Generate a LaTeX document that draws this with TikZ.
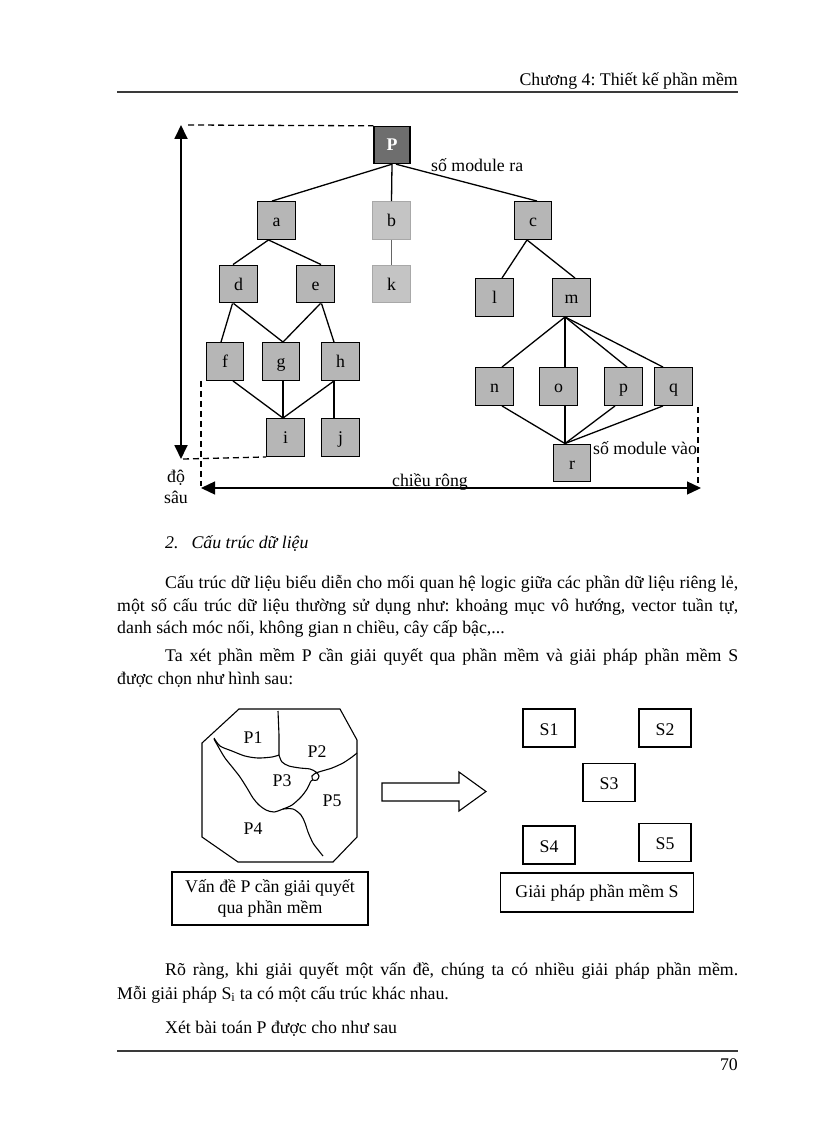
\documentclass[tikz,border=0pt]{standalone}
\usepackage{fontspec}
\setmainfont{Liberation Serif}
\usetikzlibrary{arrows.meta}
\definecolor{tg}{HTML}{B6B6B6}
\definecolor{pg}{HTML}{6E6E6E}
\definecolor{lg}{HTML}{C4C4C4}
\definecolor{lb}{HTML}{A8A8A8}
\definecolor{rule}{HTML}{3A3A3A}
\newcommand\myfs{\fontsize{17.8pt}{21.5pt}\selectfont}
\tikzset{
  every node/.style={font=\myfs, inner sep=0pt},
  tn/.style={draw=black, line width=1.4pt, fill=tg, minimum width=37.5pt, minimum height=37.5pt, text height=14pt, text depth=2pt},
  tl/.style={tn, draw=lb, fill=lg},
  lnk/.style={line width=1.3pt},
  dsh/.style={line width=1.3pt, dash pattern=on 6pt off 4pt},
  sbox/.style={draw, line width=1.1pt, minimum width=52pt, minimum height=38pt, text height=15pt, text depth=1pt},
  txt/.style={anchor=base west},
  tip/.style={line width=1.3pt, {Triangle[length=14pt,width=13pt]}-{Triangle[length=14pt,width=13pt]}}
}
\begin{document}
\frenchspacing
\begin{tikzpicture}[x=1pt,y=-1pt]
\useasboundingbox[fill=white] (0,0) rectangle (816,1123);
% header
\node[anchor=base east] (hdr) at (738,86) {Chương 4: Thiết kế phần mềm};
\draw[line width=1.6pt, rule] (117,92) -- (738,92);
% tree
\node[tn, fill=pg, minimum width=36pt, minimum height=37pt] (P) at (392,145) {\textcolor{white}{\textbf{P}}};
\node[tn] (a) at (276.5,220.5) {a};
\node[tl] (b) at (391.5,220.5) {b};
\node[tn] (c) at (533,220.5) {c};
\node[tn] (d) at (238.5,284) {d};
\node[tn] (e) at (315.5,284) {e};
\node[tl] (k) at (391.5,284) {k};
\node[tn] (l) at (494.5,297.5) {l};
\node[tn] (m) at (571.5,297.5) {m};
\node[tn] (f) at (225,361.5) {f};
\node[tn] (g) at (281,361.5) {g};
\node[tn] (h) at (340.5,361.5) {h};
\node[tn] (i) at (285.5,437.5) {i};
\node[tn] (j) at (340.5,437.5) {j};
\node[tn] (n) at (494.5,386.5) {n};
\node[tn] (o) at (558.5,386.5) {o};
\node[tn] (p) at (623.5,386.5) {p};
\node[tn] (q) at (673.5,386.5) {q};
\node[tn] (r) at (572,463) {r};
\draw[lnk] (P.south) -- ([xshift=-4.5pt]a.north);
\draw[lnk] (P.south) -- (b.north);
\draw[lnk] ([xshift=4pt]P.south) -- ([xshift=4pt]c.north);
\draw[lnk] ([xshift=-8pt]a.south) -- ([xshift=-5.5pt]d.north);
\draw[lnk] ([xshift=-8pt]a.south) -- ([xshift=5.5pt]e.north);
\draw[lnk, lb!60!black] (b.south) -- (k.north);
\draw[lnk] ([xshift=-6pt]c.south) -- ([xshift=7.5pt]l.north);
\draw[lnk] ([xshift=-6pt]c.south) -- ([xshift=3.5pt]m.north);
\draw[lnk] ([xshift=-6pt]d.south) -- ([xshift=-4pt]f.north);
\draw[lnk] ([xshift=-5pt]d.south) -- ([xshift=2pt]g.north);
\draw[lnk] ([xshift=5pt]e.south) -- ([xshift=2pt]g.north);
\draw[lnk] ([xshift=6pt]e.south) -- ([xshift=-6.5pt]h.north);
\draw[lnk] ([xshift=8pt]f.south) -- ([xshift=-2.5pt]i.north);
\draw[lnk] ([xshift=2pt]g.south) -- ([xshift=-2.5pt]i.north);
\draw[lnk] ([xshift=-6.5pt]h.south) -- ([xshift=-2.5pt]i.north);
\draw[lnk] ([xshift=-6.5pt]h.south) -- ([xshift=-6.5pt]j.north);
\draw[lnk] ([xshift=-6.5pt]m.south) -- ([xshift=7.5pt]n.north);
\draw[lnk] ([xshift=-6.5pt]m.south) -- ([xshift=6.5pt]o.north);
\draw[lnk] ([xshift=-6.5pt]m.south) -- ([xshift=3.5pt]p.north);
\draw[lnk] ([xshift=-6.5pt]m.south) -- ([xshift=-10.5pt]q.north);
\draw[lnk] ([xshift=7.5pt]n.south) -- ([xshift=-7pt]r.north);
\draw[lnk] ([xshift=6.5pt]o.south) -- ([xshift=-7pt]r.north);
\draw[lnk] ([xshift=-8.5pt]p.south) -- ([xshift=-7pt]r.north);
\draw[lnk] ([xshift=-10.5pt]q.south) -- ([xshift=-7pt]r.north);
\node[txt] (lra) at (431,172) {số module ra};
\node[txt] (lvao) at (593,454) {số module vào};
% measures
\coordinate (dt) at (181,125);
\coordinate (db) at (181,459);
\coordinate (wl) at (201,488);
\coordinate (wr) at (701,488);
\draw[tip, line width=1.8pt] (db) -- (dt);
\draw[tip] (wl) -- (wr);
\draw[dsh] (188,125) -- (P.north west);
\draw[dsh] (183,459) -- (i.south west);
\draw[dsh] ([xshift=-24pt]f.south) -- (201,486);
\draw[dsh] (698,407) -- (698,484);
\node[anchor=base] (lw) at (430,486) {chiều rộng};
\node[align=center] (ld) at (176,487) {độ\\sâu};
% text
\node[txt] (sec) at (165,548) {\textit{2.}\hspace{13pt}\textit{Cấu trúc dữ liệu}};
\node[txt] (t1) at (165,588) {\makebox[573pt][s]{Cấu trúc dữ liệu biểu diễn cho mối quan hệ logic giữa các phần dữ liệu riêng lẻ,}};
\node[txt] (t2) at (117,611) {\makebox[621pt][s]{một số cấu trúc dữ liệu thường sử dụng như: khoảng mục vô hướng, vector tuần tự,}};
\node[txt] (t3) at (117,633) {danh sách móc nối, không gian n chiều, cây cấp bậc,...};
\node[txt] (t4) at (165,661) {\makebox[573pt][s]{Ta xét phần mềm P cần giải quyết qua phần mềm và giải pháp phần mềm S}};
\node[txt] (t5) at (117,684) {được chọn như hình sau:};
% figure 2
\draw[line width=1.1pt] (239,709) -- (340,709) -- (357,740) -- (357,837) -- (333,862) -- (238,862) -- (202,837) -- (202,743) -- cycle;
\draw[line width=1.1pt] plot[smooth] coordinates {(214,738) (220,746) (232,751) (245,756) (258,758) (272,757) (279,755)};
\draw[line width=1.1pt] (278,711) -- (279,735) -- (279,755);
\draw[line width=1.1pt] plot[smooth] coordinates {(279,755) (282,762) (289,766) (300,768) (310,769) (316,772) (319,776) (317,780) (313,780) (312,776) (316,773) (322,771) (332,768) (343,763) (352,757) (357,753)};
\draw[line width=1.1pt] plot[smooth] coordinates {(214,739) (219,748) (225,758) (233,768) (240,777) (247,788) (253,798) (259,805) (266,810) (274,812) (283,809) (292,805) (301,797) (307,789) (311,781) (313,780)};
\draw[line width=1.1pt] plot[smooth] coordinates {(283,809) (293,809) (301,815) (305,823) (308,832) (313,843) (319,851) (323,856)};
\node (p1) at (253,738) {P1};
\node (p2) at (317,752) {P2};
\node (p3) at (282,781) {P3};
\node (p5) at (332,801) {P5};
\node (p4) at (253,829) {P4};
\draw[line width=1.1pt] (382,783) -- (459,783) -- (459,772) -- (486,791.5) -- (459,811) -- (459,801) -- (382,801) -- cycle;
\node[sbox] (s1) at (549,728) {S1};
\node[sbox] (s2) at (665,728) {S2};
\node[sbox] (s3) at (609,782.5) {S3};
\node[sbox] (s4) at (549,845) {S4};
\node[sbox] (s5) at (665,842.5) {S5};
\node[draw, line width=1.1pt, minimum width=196pt, minimum height=53pt, align=center] (bx1) at (270,898.5) {Vấn đề P cần giải quyết\\qua phần mềm};
\node[draw, line width=1.1pt, minimum width=193pt, minimum height=39pt] (bx2) at (597,892.5) {Giải pháp phần mềm S};
% text
\node[txt] (t6) at (165,975) {\makebox[573pt][s]{Rõ ràng, khi giải quyết một vấn đề, chúng ta có nhiều giải pháp phần mềm.}};
\node[txt] (t7) at (117,999) {Mỗi giải pháp S\textsubscript{i} ta có một cấu trúc khác nhau.};
\node[txt] (t8) at (165,1033) {Xét bài toán P được cho như sau};
\draw[line width=1.6pt, rule] (117,1051) -- (738,1051);
\node[anchor=base east] (pg) at (738,1070) {70};
\end{tikzpicture}
\end{document}
